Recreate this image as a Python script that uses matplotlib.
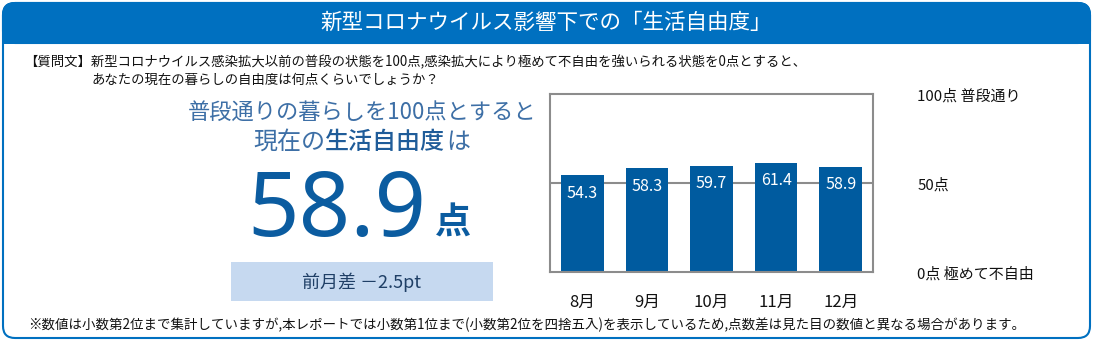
import matplotlib
matplotlib.use("Agg")
import matplotlib.pyplot as plt
from matplotlib.patches import FancyBboxPatch, Rectangle

plt.rcParams['font.family'] = ['Noto Sans CJK JP', 'DejaVu Sans']

# ---- data ----
months = ["8月", "9月", "10月", "11月", "12月"]
scores = [54.3, 58.3, 59.7, 61.4, 58.9]
ref_levels = [0, 50, 100]
ref_labels = ["0点 極めて不自由", "50点", "100点 普段通り"]
title = "新型コロナウイルス影響下での「生活自由度」"
question1 = "【質問文】新型コロナウイルス感染拡大以前の普段の状態を100点,感染拡大により極めて不自由を強いられる状態を0点とすると、"
question2 = "あなたの現在の暮らしの自由度は何点くらいでしょうか？"
headline1 = "普段通りの暮らしを100点とすると"
current_value = "58.9"
diff_text = "前月差 －2.5pt"
footnote = "※数値は小数第2位まで集計していますが,本レポートでは小数第1位まで(小数第2位を四捨五入)を表示しているため,点数差は見た目の数値と異なる場合があります。"

W, H = 1093, 341
fig = plt.figure(figsize=(W / 100, H / 100), dpi=100)
fig.patch.set_facecolor("white")

# overlay axes in pixel coordinates
bg = fig.add_axes([0, 0, 1, 1])
bg.set_xlim(0, W)
bg.set_ylim(H, 0)
bg.axis("off")

blue = "#0070c0"
# outer border
bg.add_patch(FancyBboxPatch((3, 3), W - 6, H - 6, boxstyle="round,pad=0,rounding_size=12",
                            fc="white", ec=blue, lw=1.5))
# header band
bg.add_patch(FancyBboxPatch((3, 3), W - 6, 40, boxstyle="round,pad=0,rounding_size=12",
                            fc=blue, ec=blue, lw=1.5))
bg.add_patch(Rectangle((3, 25), W - 6, 19, fc=blue, ec="none"))
bg.text(W / 2, 23, title, color="white", fontsize=15.5, ha="center", va="center")

# question
bg.text(24, 62, question1, fontsize=9.6, ha="left", va="center", color="#111111")
bg.text(92, 80, question2, fontsize=9.6, ha="left", va="center", color="#111111")

# headline
hl_color = "#3d6fa6"
bg.text(362, 112, headline1, fontsize=16, ha="center", va="center", color=hl_color)
bg.text(253, 142, "現在の", fontsize=17.3, ha="left", va="center", color=hl_color)
bg.text(325, 142, "生活自由度", fontsize=17.3, ha="left", va="center", color="#1f5c99",
        fontweight="medium")
bg.text(446, 142, "は", fontsize=17.3, ha="left", va="center", color=hl_color)

num_color = "#0b5ca0"
bg.text(337, 213, current_value, fontsize=65, ha="center", va="center", color=num_color,
        family=["Noto Sans", "DejaVu Sans"])
bg.text(453, 223, "点", fontsize=26, ha="center", va="center", color=num_color, fontweight="bold")

# diff box
bg.add_patch(Rectangle((231, 262), 262, 39, fc="#c6d9f0", ec="none"))
bg.text(362, 282, diff_text, fontsize=13, ha="center", va="center", color="#1f3f66")

# footnote
bg.text(28, 325, footnote, fontsize=9.7, ha="left", va="center", color="#111111")

# ---- bar chart ----
x0, x1, y0, y1 = 550, 873, 94, 272
ax = fig.add_axes([x0 / W, 1 - y1 / H, (x1 - x0) / W, (y1 - y0) / H])
pos = list(range(len(months)))
ax.bar(pos, scores, width=0.66, color="#005b9f", zorder=2)
ax.axhline(50, color="#8c8c8c", lw=1.5, zorder=1)
ax.set_xlim(-0.5, len(months) - 0.5)
ax.set_ylim(0, 100)
for s in ax.spines.values():
    s.set_color("#8c8c8c")
    s.set_linewidth(1.5)
ax.set_yticks([])
ax.set_xticks(pos)
ax.set_xticklabels(months, fontsize=12, color="#111111")
ax.tick_params(axis="x", length=0, pad=16)
for p, v in zip(pos, scores):
    ax.text(p, v - 10, f"{v:.1f}", color="white", fontsize=11.5, ha="center", va="center",
            zorder=3)

# reference labels to the right
for lv, lb in zip(ref_levels, ref_labels):
    ax.annotate(lb, xy=(1, lv / 100), xycoords="axes fraction", xytext=(32, -2),
                textcoords="offset points", fontsize=10.8, ha="left", va="center",
                color="#111111", annotation_clip=False)

fig.savefig("out.png", dpi=100, facecolor="white")
